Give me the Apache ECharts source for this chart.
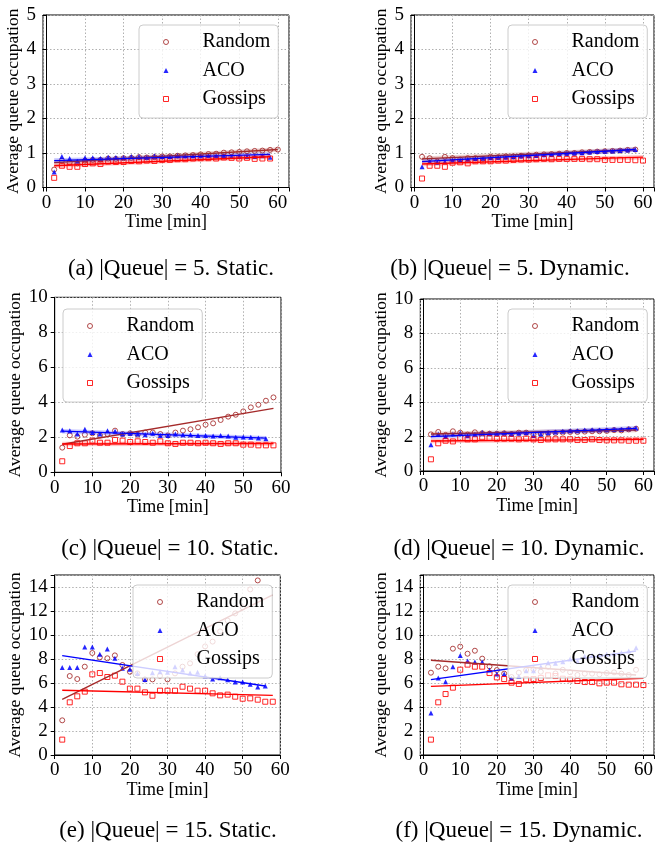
<!DOCTYPE html>
<html><head><meta charset="utf-8">
<script src="https://cdn.jsdelivr.net/npm/echarts@6/dist/echarts.min.js"></script>
<style>html,body{margin:0;padding:0;background:#fff}#c{width:657px;height:850px}</style>
</head><body><div id="c"></div>
<script>
// ---- time axes (minutes) ----
const t60 = [2,4,6,8,10,12,14,16,18,20,22,24,26,28,30,32,34,36,38,40,42,44,46,48,50,52,54,56,58,60];
const t58 = [2,4,6,8,10,12,14,16,18,20,22,24,26,28,30,32,34,36,38,40,42,44,46,48,50,52,54,56,58];
const t56 = [2,4,6,8,10,12,14,16,18,20,22,24,26,28,30,32,34,36,38,40,42,44,46,48,50,52,54,56];
const t54 = [2,4,6,8,10,12,14,16,18,20,22,24,26,28,30,32,34,36,38,40,42,44,46,48,50,52,54];

// ---- (a) |Queue| = 5, static ----
const aRandom  = [0.52,0.78,0.72,0.70,0.78,0.80,0.80,0.84,0.83,0.85,0.86,0.88,0.87,0.88,0.90,0.90,0.92,0.93,0.94,0.96,0.97,0.98,1.01,1.02,1.03,1.05,1.06,1.07,1.09,1.10];
const aAco     = [0.45,0.90,0.84,0.76,0.86,0.86,0.84,0.88,0.87,0.87,0.90,0.90,0.88,0.92,0.90,0.90,0.93,0.92,0.92,0.92,0.93,0.92,0.93,0.90,0.90,0.90,0.90,0.92,0.88];
const aGossips = [0.28,0.63,0.60,0.60,0.68,0.70,0.68,0.75,0.74,0.74,0.77,0.76,0.78,0.77,0.80,0.80,0.82,0.82,0.84,0.85,0.85,0.84,0.87,0.86,0.84,0.86,0.83,0.84,0.84];
const aFitRandomX = [2,60], aFitRandomY = [0.72,1.10];
const aFitAcoX = [2,58], aFitAcoY = [0.78,0.96];
const aFitGossipsX = [2,58], aFitGossipsY = [0.63,0.89];

// ---- (b) |Queue| = 5, dynamic ----
const bRandom  = [0.89,0.85,0.75,0.89,0.85,0.81,0.85,0.85,0.83,0.89,0.88,0.90,0.90,0.92,0.93,0.95,0.96,0.97,0.98,1.00,1.00,1.02,1.03,1.04,1.05,1.06,1.07,1.09,1.10];
const bAco     = [0.60,0.75,0.73,0.75,0.79,0.80,0.82,0.84,0.85,0.86,0.88,0.88,0.89,0.91,0.92,0.93,0.95,0.96,0.98,0.99,1.00,1.01,1.03,1.04,1.05,1.06,1.07,1.09,1.10];
const bGossips = [0.26,0.63,0.63,0.60,0.72,0.73,0.70,0.76,0.76,0.76,0.78,0.78,0.80,0.81,0.81,0.82,0.83,0.82,0.83,0.83,0.83,0.83,0.82,0.82,0.80,0.80,0.80,0.80,0.79,0.78];
const bFitRandomX = [2,58], bFitRandomY = [0.83,1.10];
const bFitAcoX = [2,58], bFitAcoY = [0.75,1.10];
const bFitGossipsX = [2,60], bFitGossipsY = [0.68,0.88];

// ---- (c) |Queue| = 10, static ----
const cRandom  = [1.41,2.11,2.04,2.15,2.23,2.11,2.19,2.38,2.19,2.23,2.15,2.27,2.27,2.19,2.11,2.27,2.38,2.46,2.57,2.72,2.80,2.99,3.18,3.29,3.48,3.71,3.86,4.09,4.28];
const cAco     = [2.42,2.38,2.19,2.46,2.27,2.19,2.38,2.34,2.19,2.23,2.19,2.15,2.23,2.11,2.11,2.19,2.15,2.15,2.11,2.11,2.08,2.11,2.08,2.00,2.02,2.00,1.96,1.92];
const cGossips = [0.63,1.50,1.66,1.66,1.81,1.69,1.69,1.85,1.81,1.73,1.77,1.73,1.69,1.77,1.66,1.62,1.69,1.69,1.66,1.69,1.66,1.62,1.66,1.66,1.58,1.58,1.54,1.54,1.54];
const cFitRandomX = [2,58], cFitRandomY = [1.60,3.65];
const cFitAcoX = [2,56], cFitAcoY = [2.35,1.95];
const cFitGossipsX = [2,58], cFitGossipsY = [1.62,1.65];

// ---- (d) |Queue| = 10, dynamic ----
const dRandom  = [2.13,2.27,2.10,2.31,2.23,2.12,2.25,2.19,2.17,2.17,2.19,2.15,2.23,2.23,2.11,2.15,2.19,2.21,2.23,2.27,2.27,2.29,2.31,2.31,2.33,2.38,2.36,2.42,2.46];
const dAco     = [1.53,2.15,2.00,2.15,2.23,2.05,2.13,2.25,2.19,2.19,2.23,2.15,2.19,2.23,2.07,2.15,2.23,2.27,2.31,2.34,2.34,2.38,2.40,2.38,2.40,2.42,2.42,2.46,2.50];
const dGossips = [0.68,1.61,1.76,1.72,1.92,1.84,1.84,1.96,1.92,1.88,1.88,1.88,1.84,1.88,1.84,1.80,1.84,1.84,1.84,1.84,1.80,1.80,1.84,1.80,1.78,1.78,1.78,1.76,1.76,1.76];
const dFitRandomX = [2,58], dFitRandomY = [2.15,2.38];
const dFitAcoX = [2,58], dFitAcoY = [2.00,2.48];
const dFitGossipsX = [2,60], dFitGossipsY = [1.74,1.84];

// ---- (e) |Queue| = 15, static ----
const eRandom  = [2.89,6.58,6.33,7.36,8.50,8.14,8.06,8.30,7.50,6.94,6.80,6.30,6.30,6.60,6.30,6.80,7.36,7.64,8.40,9.05,9.45,10.30,11.20,11.80,12.30,13.80,14.55];
const eAco     = [7.30,7.30,7.30,9.00,9.00,8.39,8.83,8.06,7.22,7.14,6.80,6.30,6.86,6.94,6.90,7.36,7.08,6.83,6.90,6.58,6.33,6.44,6.28,6.08,6.08,5.89,5.67,5.75];
const eGossips = [1.28,4.39,4.89,5.28,6.72,6.83,6.50,6.61,6.11,5.53,5.53,5.22,4.94,5.36,5.36,5.36,5.69,5.53,5.36,5.36,5.14,4.97,5.03,4.86,4.69,4.72,4.61,4.44,4.44];
const eFitRandomX = [2,58], eFitRandomY = [4.64,13.35];
const eFitAcoX = [2,56], eFitAcoY = [8.28,5.75];
const eFitGossipsX = [2,58], eFitGossipsY = [5.39,4.97];

// ---- (f) |Queue| = 15, dynamic ----
const fRandom  = [6.86,7.36,7.22,8.86,9.03,8.44,8.69,8.03,7.39,7.08,6.78,6.50,6.86,7.08,7.14,6.94,7.36,6.80,7.10,6.90,6.67,6.78,6.78,6.72,6.83,6.89,6.78,6.67,7.10];
const fAco     = [3.50,6.42,6.11,7.36,8.30,7.83,7.75,7.75,7.08,6.75,6.75,6.39,6.56,7.03,7.03,7.36,7.69,7.64,7.78,8.00,7.83,8.22,8.33,8.33,8.39,8.44,8.53,8.67,8.94];
const fGossips = [1.28,4.39,5.08,5.61,7.11,7.53,7.36,7.36,6.83,6.47,6.33,6.03,5.92,6.31,6.33,6.42,6.64,6.58,6.36,6.31,6.17,6.08,6.08,5.97,6.03,6.03,5.89,5.86,5.86,5.83];
const fFitRandomX = [2,58], fFitRandomY = [7.89,6.67];
const fFitAcoX = [2,58], fFitAcoY = [6.28,8.67];
const fFitGossipsX = [2,60], fFitGossipsY = [5.72,6.39];

// ---- text ----
const captions = ['(a) |Queue| = 5. Static.', '(b) |Queue| = 5. Dynamic.',
                  '(c) |Queue| = 10. Static.', '(d) |Queue| = 10. Dynamic.',
                  '(e) |Queue| = 15. Static.', '(f) |Queue| = 15. Dynamic.'];
const seriesNames = ['Random', 'ACO', 'Gossips'];
const xName = 'Time [min]';
const yName = 'Average queue occupation';

// ---- layout / style ----
const FONT = 'Liberation Serif';
const COL = {Random: '#a52a2a', ACO: '#0000ff', Gossips: '#ff0000'};
const pair = (xs, ys) => ys.map((y, i) => [xs[i], y]);

const panels = [
  {grid:{left:43, top:15, width:246, height:172.5}, x:[-0.9,62.9], y:[0,5], yInt:1, nameGap:19,
   legend:{left:139, top:25}, cap:[171,269], band:[1,1,1],
   R:[t60,aRandom], A:[t58,aAco], G:[t58,aGossips],
   fR:[aFitRandomX,aFitRandomY], fA:[aFitAcoX,aFitAcoY], fG:[aFitGossipsX,aFitGossipsY]},
  {grid:{left:411, top:15, width:247, height:172.5}, x:[-0.9,62.9], y:[0,5], yInt:1, nameGap:19.5,
   legend:{left:508, top:25}, cap:[510,269], band:[1,1,1],
   R:[t58,bRandom], A:[t58,bAco], G:[t60,bGossips],
   fR:[bFitRandomX,bFitRandomY], fA:[bFitAcoX,bFitAcoY], fG:[bFitGossipsX,bFitGossipsY]},
  {grid:{left:54.7, top:297.3, width:226.3, height:175}, x:[0,60], y:[0,10], yInt:2, nameGap:30.5,
   legend:{left:63, top:309}, cap:[170,549], band:[0,1,1],
   R:[t58,cRandom], A:[t56,cAco], G:[t58,cGossips],
   fR:[cFitRandomX,cFitRandomY], fA:[cFitAcoX,cFitAcoY], fG:[cFitGossipsX,cFitGossipsY]},
  {grid:{left:420.3, top:299, width:239, height:172}, x:[-0.9,62.9], y:[0,10], yInt:2, nameGap:28.5,
   legend:{left:508, top:309}, cap:[519,549], band:[1,1,1],
   R:[t58,dRandom], A:[t58,dAco], G:[t60,dGossips],
   fR:[dFitRandomX,dFitRandomY], fA:[dFitAcoX,dFitAcoY], fG:[dFitGossipsX,dFitGossipsY]},
  {grid:{left:54.7, top:575, width:225.6, height:180}, x:[0,60], y:[0,15], yInt:2, nameGap:30.5,
   legend:{left:133, top:585}, cap:[168,831], band:[0,0,0],
   R:[t54,eRandom], A:[t56,eAco], G:[t58,eGossips],
   fR:[eFitRandomX,eFitRandomY], fA:[eFitAcoX,eFitAcoY], fG:[eFitGossipsX,eFitGossipsY]},
  {grid:{left:420.3, top:575, width:238, height:180}, x:[-0.9,62.9], y:[0,15], yInt:2, nameGap:28.5,
   legend:{left:508, top:585}, cap:[519,831], band:[0,0,0],
   R:[t58,fRandom], A:[t58,fAco], G:[t60,fGossips],
   fR:[fFitRandomX,fFitRandomY], fA:[fFitAcoX,fFitAcoY], fG:[fFitGossipsX,fFitGossipsY]}
];

const grids = [], xAxes = [], yAxes = [], series = [], legends = [], graphics = [];
const lab = {fontFamily: FONT, fontSize: 19, color: '#000'};

panels.forEach((p, i) => {
  grids.push(Object.assign({show: true, borderColor: '#000', borderWidth: 1, containLabel: false}, p.grid));
  const nice = p.x[0] === 0;
  const xa = {
    type: 'value', gridIndex: i, min: p.x[0], max: p.x[1],
    name: xName, nameLocation: 'middle', nameGap: 20,
    nameTextStyle: {fontFamily: FONT, fontSize: 18, color: '#000'},
    axisLine: {show: true, lineStyle: {color: '#000', width: 1}},
    axisTick: {show: true, length: 4, lineStyle: {color: '#000'}},
    axisLabel: Object.assign({margin: 6, formatter: v => (Math.abs(v % 10) < 1e-6 ? String(Math.round(v)) : '')}, lab),
    splitLine: {show: true, lineStyle: {color: '#b0b0b0', type: [1.5, 2], width: 1}}
  };
  if (nice) { xa.interval = 10; } else { xa.splitNumber = 6; xa.minInterval = 10; xa.maxInterval = 10; }
  xAxes.push(xa);
  yAxes.push({
    type: 'value', gridIndex: i, min: p.y[0], max: p.y[1], interval: p.yInt,
    name: yName, nameLocation: 'middle', nameGap: p.nameGap,
    nameTextStyle: {fontFamily: FONT, fontSize: 17.5, color: '#000'},
    axisLine: {show: true, lineStyle: {color: '#000', width: 1}},
    axisTick: {show: true, length: 4, lineStyle: {color: '#000'}},
    axisLabel: Object.assign({margin: 7, formatter: v => (Math.abs(v % p.yInt) < 1e-6 ? String(Math.round(v)) : '')}, lab),
    splitLine: {show: true, lineStyle: {color: '#b0b0b0', type: [1.5, 2], width: 1}}
  });

  const sc = (name, d, symbol, style) => ({
    type: 'scatter', name, xAxisIndex: i, yAxisIndex: i, data: pair(d[0], d[1]),
    symbol, symbolSize: 5, itemStyle: style, z: 2, silent: true
  });
  const fit = (name, d, w, op) => ({
    type: 'line', name: name + (w > 2 ? ' band' : ' fit'), xAxisIndex: i, yAxisIndex: i,
    data: pair(d[0], d[1]), symbol: 'none', showSymbol: false, silent: true, z: 3,
    lineStyle: {color: COL[name], width: w, opacity: op}
  });
  const keys = ['R', 'A', 'G'];
  const syms = ['circle', 'triangle', 'rect'];
  const styles = [
    {color: 'rgba(0,0,0,0)', borderColor: COL.Random, borderWidth: 1, opacity: 0.85},
    {color: COL.ACO, borderWidth: 0, opacity: 0.85},
    {color: 'rgba(0,0,0,0)', borderColor: COL.Gossips, borderWidth: 1, opacity: 0.85}
  ];
  seriesNames.forEach((nm, k) => {
    series.push(sc(nm, p[keys[k]], syms[k], styles[k]));
    if (p.band[k]) series.push(fit(nm, p['f' + keys[k]], 4.5, 0.22));
    series.push(fit(nm, p['f' + keys[k]], 1.4, 1));
  });

  legends.push({
    orient: 'vertical', left: p.legend.left, top: p.legend.top,
    padding: [7, 8, 9, 24], itemGap: 8.5, itemWidth: 5, itemHeight: 5,
    selectedMode: false, backgroundColor: 'rgba(255,255,255,0.8)',
    borderColor: '#cccccc', borderWidth: 1, borderRadius: 4,
    textStyle: {fontFamily: FONT, fontSize: 20, color: '#000', lineHeight: 20, padding: [0, 0, 0, 29]},
    data: [
      {name: 'Random', icon: 'circle', itemStyle: {color: 'rgba(0,0,0,0)', borderColor: COL.Random, borderWidth: 1}},
      {name: 'ACO', icon: 'triangle', itemStyle: {color: COL.ACO, borderWidth: 0}},
      {name: 'Gossips', icon: 'rect', itemStyle: {color: 'rgba(0,0,0,0)', borderColor: COL.Gossips, borderWidth: 1}}
    ]
  });

  graphics.push({
    type: 'text', x: p.cap[0], y: p.cap[1],
    style: {text: captions[i], fontFamily: FONT, fontSize: 23, fill: '#000', align: 'center', verticalAlign: 'middle'}
  });
});

const chart = echarts.init(document.getElementById('c'), null, {renderer: 'canvas'});
chart.setOption({
  animation: false,
  backgroundColor: '#fff',
  grid: grids, xAxis: xAxes, yAxis: yAxes, series, legend: legends, graphic: graphics
});
</script></body></html>
